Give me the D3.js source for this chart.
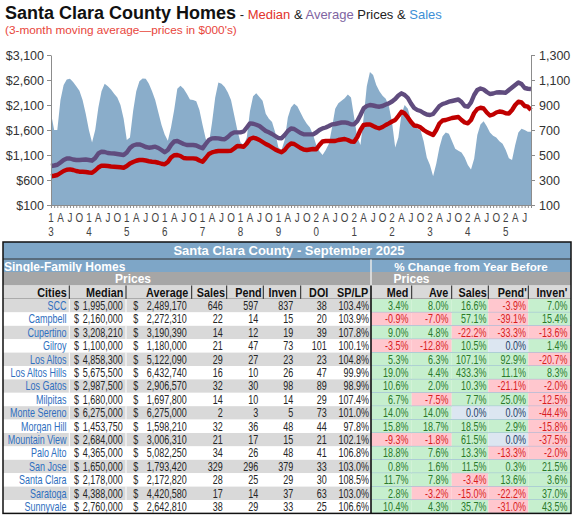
<!DOCTYPE html>
<html>
<head>
<meta charset="utf-8">
<script src="https://cdn.jsdelivr.net/npm/d3@7"></script>
<style>
body { margin: 0; background: #fff; }
svg text { font-family: "Liberation Sans", Arial, sans-serif; }
</style>
</head>
<body>
<svg id="chart" width="575" height="519"></svg>
<script>
// ---- chart data (3-month moving averages, Jan 2013 .. Sep 2025) ----
const years = ["13", "14", "15", "16", "17", "18", "19", "20", "21", "22", "23", "24", "25"]
const quarter_letters = ["A", "J", "O"]

const sales = [
    834, 700, 700, 940, 1060, 1105, 1110, 1085, 1050, 1015, 940, 830,
    700, 600, 700, 880, 1010, 1070, 1050, 1025, 990, 960, 900, 790,
    620, 640, 850, 1010, 1090, 1113, 1110, 1070, 1010, 940, 840, 740,
    665, 615, 720, 860, 1030, 1055, 1030, 990, 945, 940, 930, 860,
    740, 630, 595, 760, 960, 1080, 1070, 1045, 1000, 940, 820, 700,
    600, 580, 640, 850, 970, 995, 965, 935, 830, 790, 765, 680,
    560, 540, 620, 800, 880, 910, 890, 840, 790, 750, 720, 660,
    580, 530, 500, 540, 590, 720, 870, 915, 935, 955, 985, 960,
    800, 640, 580, 800, 1050, 1165, 1140, 1060, 1010, 975, 950, 890,
    760, 560, 640, 830, 900, 870, 780, 730, 710, 700, 610, 480,
    420, 330, 430, 560, 650, 680, 670, 610, 550, 535, 520, 480,
    420, 385, 470, 660, 745, 770, 730, 680, 655, 640, 610, 590,
    540, 475, 460, 580, 680, 710, 700, 686, 686
]

const median = [
    675, 685, 700, 740, 780, 805, 813, 800, 780, 766, 765, 760,
    750, 746, 790, 850, 886, 885, 880, 870, 866, 860, 855, 846,
    880, 930, 960, 985, 1000, 1000, 990, 975, 966, 960, 945, 925,
    913, 960, 1050, 1095, 1100, 1080, 1040, 1033, 1033, 1033, 1025, 990,
    966, 1040, 1120, 1153, 1170, 1180, 1180, 1180, 1180, 1185, 1230, 1280,
    1275, 1266, 1330, 1420, 1446, 1430, 1400, 1360, 1320, 1290, 1250, 1210,
    1180, 1153, 1200, 1280, 1330, 1320, 1280, 1240, 1210, 1200, 1210, 1220,
    1215, 1300, 1370, 1380, 1380, 1380, 1380, 1400, 1410, 1420, 1400, 1370,
    1366, 1460, 1600, 1700, 1710, 1713, 1680, 1650, 1633, 1660, 1700, 1733,
    1770, 1800, 1880, 1966, 1930, 1850, 1760, 1690, 1680, 1653, 1600, 1560,
    1530, 1500, 1600, 1730, 1790, 1800, 1820, 1840, 1850, 1860, 1800, 1750,
    1733, 1800, 1940, 2020, 2045, 2030, 1950, 1890, 1910, 1950, 1970, 1960,
    1935, 1930, 2000, 2100, 2166, 2150, 2080, 2066, 2000
]

const average = [
    880, 890, 905, 950, 1000, 1030, 1030, 1010, 1000, 1000, 1005, 1010,
    1000, 986, 1040, 1130, 1166, 1160, 1140, 1133, 1130, 1120, 1110, 1100,
    1150, 1240, 1290, 1310, 1313, 1290, 1260, 1246, 1255, 1266, 1240, 1200,
    1155, 1200, 1300, 1370, 1380, 1350, 1320, 1300, 1300, 1300, 1290, 1260,
    1233, 1320, 1400, 1433, 1435, 1433, 1420, 1413, 1460, 1520, 1553, 1553,
    1553, 1570, 1650, 1733, 1725, 1705, 1680, 1630, 1580, 1553, 1520, 1480,
    1440, 1433, 1500, 1580, 1630, 1620, 1580, 1540, 1515, 1513, 1513, 1513,
    1550, 1600, 1633, 1650, 1680, 1713, 1720, 1735, 1750, 1753, 1740, 1715,
    1713, 1780, 1900, 2033, 2080, 2100, 2090, 2075, 2066, 2080, 2110, 2133,
    2170, 2220, 2290, 2333, 2300, 2240, 2130, 2040, 2000, 1980, 1940, 1910,
    1900, 1920, 2000, 2080, 2120, 2140, 2166, 2180, 2195, 2210, 2160, 2080,
    2066, 2150, 2300, 2400, 2430, 2410, 2360, 2320, 2330, 2350, 2355, 2350,
    2346, 2400, 2450, 2500, 2550, 2520, 2440, 2425, 2420
]

const price_ticks = [100, 600, 1100, 1600, 2100, 2600, 3100]
const sales_ticks = [100, 300, 500, 700, 900, 1100, 1300]

// ---- table data ----
const cities = ["SCC", "Campbell", "Cupertino", "Gilroy", "Los Altos", "Los Altos Hills", "Los Gatos", "Milpitas",
    "Monte Sereno", "Morgan Hill", "Mountain View", "Palo Alto", "San Jose", "Santa Clara", "Saratoga", "Sunnyvale"]
const city_median = [1995000, 2160000, 3208210, 1100000, 4858300, 5675500, 2987500, 1680000,
    6275000, 1453750, 2684000, 4365000, 1650000, 2178000, 4388000, 2760000]
const city_average = [2489170, 2272310, 3190390, 1180000, 5122090, 6432740, 2906570, 1697800,
    6275000, 1598210, 3006310, 5082250, 1793420, 2172820, 4420580, 2642810]
const city_sales = [646, 22, 14, 21, 29, 16, 32, 14, 2, 32, 21, 34, 329, 28, 17, 38]
const city_pend = [597, 14, 12, 47, 27, 10, 30, 10, 3, 36, 17, 26, 296, 25, 14, 29]
const city_inven = [837, 15, 19, 73, 23, 26, 98, 14, 5, 48, 15, 48, 379, 29, 37, 33]
const city_doi = [38, 20, 39, 101, 23, 47, 89, 29, 73, 44, 21, 41, 33, 30, 63, 25]
const city_splp = [103.4, 103.9, 107.8, 100.1, 104.8, 99.9, 98.9, 107.4, 101.0, 97.8, 102.1, 106.8, 103.0, 108.5, 103.0, 106.6]
// % change from year before: Med, Ave, Sales, Pend', Inven'
const chg_med = [3.4, -0.9, 9.0, -3.5, 5.3, 19.0, 10.6, 6.7, 14.0, 15.8, -9.3, 18.8, 0.8, 11.7, 2.8, 10.4]
const chg_ave = [8.0, -7.0, 4.8, -12.8, 6.3, 4.4, 2.0, -7.5, 14.0, 18.7, -1.8, 7.6, 1.6, 7.8, -3.2, 4.3]
const chg_sales = [16.6, 57.1, -22.2, 10.5, 107.1, 433.3, 10.3, 7.7, 0.0, 18.5, 61.5, 13.3, 11.5, -3.4, -15.0, 35.7]
const chg_pend = [-3.9, -39.1, -33.3, 0.0, 92.9, 11.1, -21.1, 25.0, 0.0, 2.9, 0.0, -13.3, 0.3, 13.6, -22.2, -31.0]
const chg_inven = [7.0, 15.4, -13.6, 1.4, -20.7, 8.3, -2.0, -12.5, -44.4, -15.8, -37.5, -2.0, 21.5, 3.6, 37.0, 43.5]

const left_headers = ["Cities", "Median", "Average", "Sales", "Pend", "Inven", "DOI", "SP/LP"]
const right_headers = ["Med", "Ave", "Sales", "Pend'", "Inven'"]

const svg = d3.select("#chart")

// no narrow font installed: squeeze Liberation Sans horizontally instead
function ntext(parent, x, y, str, anchor, size, fill, bold, sx = 0.82) {
    return parent.append("text")
        .attr("transform", `translate(${x},${y}) scale(${sx},1)`)
        .attr("text-anchor", anchor)
        .attr("font-size", size)
        .attr("font-weight", bold ? "bold" : "normal")
        .attr("fill", fill)
        .text(str)
}

function draw_title() {
    const t = svg.append("text").attr("x", 5).attr("y", 19)
    t.append("tspan").attr("font-weight", "bold").attr("font-size", 18).attr("fill", "#111").text("Santa Clara County Homes")
    const parts = [[" - ", "#222"], ["Median", "#e2342b"], [" & ", "#222"], ["Average", "#8064a2"],
        [" Prices & ", "#222"], ["Sales", "#3d8fd6"]]
    parts.forEach(p => t.append("tspan").attr("font-size", 13).attr("fill", p[1]).text(p[0]))

    svg.append("text").attr("x", 5).attr("y", 34)
        .attr("font-size", 11.8).attr("fill", "#e8463c")
        .text("(3-month moving average\u2014prices in $000's)")
}

function draw_chart() {
    const months = years.flatMap(y => d3.range(12).map(m => y + "-" + m)).slice(0, sales.length)

    const x = d3.scalePoint().domain(months).range([51, 531])
    const y_price = d3.scaleLinear().domain([100, 3100]).range([205, 55])
    const y_sales = d3.scaleLinear().domain([100, 1300]).range([205, 55])

    svg.append("path")
        .datum(sales)
        .attr("fill", "#8aadca")
        .attr("d", d3.area()
            .x((d, i) => x(months[i]))
            .y0(y_sales(100))
            .y1(d => y_sales(d)))

    const line_price = d3.line().x((d, i) => x(months[i])).y(d => y_price(d))
    svg.append("path").datum(average)
        .attr("fill", "none").attr("stroke", "#604c7e").attr("stroke-width", 4.4)
        .attr("stroke-linejoin", "round").attr("d", line_price)
    svg.append("path").datum(median)
        .attr("fill", "none").attr("stroke", "#c00000").attr("stroke-width", 4.4)
        .attr("stroke-linejoin", "round").attr("d", line_price)

    // axes
    const left = svg.append("g").attr("transform", "translate(51,0)")
        .call(d3.axisLeft(y_price).tickValues(price_ticks).tickSize(4).tickSizeOuter(0).tickPadding(3)
            .tickFormat(d => "$" + d3.format(",")(d)))
    const right = svg.append("g").attr("transform", "translate(531,0)")
        .call(d3.axisRight(y_sales).tickValues(sales_ticks).tickSize(4).tickSizeOuter(0).tickPadding(4)
            .tickFormat(d3.format(",")))
    const bottom = svg.append("g").attr("transform", "translate(0,205)")
        .call(d3.axisBottom(x).tickSize(3).tickSizeOuter(0).tickFormat(""))

    ;[left, right, bottom].forEach(g => {
        g.select(".domain").attr("stroke", "#8c8c8c")
        g.selectAll(".tick line").attr("stroke", "#8c8c8c")
        g.selectAll("text").attr("font-size", 12.5).attr("fill", "#333")
            .attr("font-family", "'Liberation Sans', Arial, sans-serif")
    })

    // two-line month labels: year digits for January, A/J/O for quarters
    const label_months = months.filter((d, i) => i % 3 == 0)
    const lab = svg.append("g")
    label_months.forEach(key => {
        const [yy, m] = key.split("-")
        const mi = +m
        ntext(lab, x(key), 222, mi == 0 ? yy[0] : quarter_letters[mi / 3 - 1], "middle", 12, "#444")
        if (mi == 0) ntext(lab, x(key), 236, yy[1], "middle", 12, "#444")
    })
}

function draw_table() {
    const L = 3, R = 571, SPLIT = 371
    const top = 242, title_b = 259, sfh_b = 272, prices_b = 285.5, head_b = 299
    const row_h = 13.4
    const right_edges = [SPLIT, 411.7, 451.7, 488.3, 528.3, R]
    const bottom = head_b + row_h * cities.length

    const g = svg.append("g")

    // banner rows
    g.append("rect").attr("x", L).attr("y", top).attr("width", R - L).attr("height", sfh_b - top).attr("fill", "#7ea6c7")
    g.append("text").attr("x", 289).attr("y", 255).attr("text-anchor", "middle")
        .attr("font-weight", "bold").attr("font-size", 13).attr("fill", "#fff")
        .text("Santa Clara County - September 2025")
    g.append("line").attr("x1", L).attr("x2", R).attr("y1", title_b).attr("y2", title_b)
        .attr("stroke", "#333").attr("stroke-width", 1)
    g.append("text").attr("x", 4).attr("y", 271.2)
        .attr("font-weight", "bold").attr("font-size", 12).attr("fill", "#fff")
        .text("Single-Family Homes")
    g.append("text").attr("x", 471).attr("y", 271.2).attr("text-anchor", "middle")
        .attr("font-weight", "bold").attr("font-size", 11.7).attr("fill", "#fff")
        .text("% Change from Year Before")

    g.append("rect").attr("x", L).attr("y", sfh_b).attr("width", R - L).attr("height", prices_b - sfh_b).attr("fill", "#a6a6a6")
    ;[133, 411.5].forEach(cx => g.append("text").attr("x", cx).attr("y", 282.8).attr("text-anchor", "middle")
        .attr("font-weight", "bold").attr("font-size", 12).attr("fill", "#fff").text("Prices"))
    g.append("line").attr("x1", SPLIT).attr("x2", SPLIT).attr("y1", title_b + 0.5).attr("y2", prices_b)
        .attr("stroke", "#e8e8e8").attr("stroke-width", 1.5)

    // column header row
    g.append("rect").attr("x", L).attr("y", prices_b).attr("width", R - L).attr("height", head_b - prices_b).attr("fill", "#d9d9d9")
    const header_right = [66.7, 123.3, 188.3, 225, 261.7, 296.7, 328.3, 368.3, 408.3, 448.3, 486.7, 526.7, 567.3]
    left_headers.concat(right_headers).forEach((h, i) => {
        ntext(g, header_right[i], 296.9, h, "end", 13.5, "#111", true, 0.8)
    })
    const header_borders = [69.3, 126, 191.7, 226.7, 263.3, 300.7, 411.7, 451.7, 488.3, 528.3]
    header_borders.forEach(xb => g.append("line").attr("x1", xb).attr("x2", xb).attr("y1", prices_b).attr("y2", head_b)
        .attr("stroke", "#222").attr("stroke-width", 1))
    g.append("line").attr("x1", L).attr("x2", R).attr("y1", head_b).attr("y2", head_b).attr("stroke", "#666").attr("stroke-width", 0.8)

    // data rows
    const fmt = d3.format(",")
    const pct = v => v.toFixed(1) + "%"
    const changes = [chg_med, chg_ave, chg_sales, chg_pend, chg_inven]
    const chg_right = [408.5, 448.5, 486.5, 526, 567.5]
    const fs = 12, sx = 0.75

    cities.forEach((city, r) => {
        const y0 = head_b + r * row_h
        const ty = y0 + row_h / 2 + 4.3
        g.append("rect").attr("x", L).attr("y", y0).attr("width", SPLIT - L).attr("height", row_h)
            .attr("fill", r % 2 == 0 ? "#d9d9d9" : "#fff")
        ;[69.3, 126].forEach(xb => g.append("line").attr("x1", xb).attr("x2", xb).attr("y1", y0).attr("y2", y0 + row_h)
            .attr("stroke", "#fff").attr("stroke-width", 1))

        const ink = "#262626"
        ntext(g, 66.5, ty, city, "end", fs, "#2f6fc0", false, sx)
        ntext(g, 74, ty, "$", "start", fs, ink, false, sx)
        ntext(g, 122.7, ty, fmt(city_median[r]), "end", fs, ink, false, sx)
        ntext(g, 133.3, ty, "$", "start", fs, ink, false, sx)
        ntext(g, 186.7, ty, fmt(city_average[r]), "end", fs, ink, false, sx)
        const vals = [city_sales[r], city_pend[r], city_inven[r], city_doi[r]]
        const vx = [222.7, 258.3, 293.3, 326.7]
        vals.forEach((v, k) => ntext(g, vx[k], ty, v, "end", fs, ink, false, sx))
        ntext(g, 369, ty, pct(city_splp[r]), "end", fs, ink, false, sx)

        changes.forEach((arr, k) => {
            const v = arr[r]
            const bg = v > 0 ? "#c6efce" : v < 0 ? "#ffc7ce" : "#dce6f1"
            const fg = v > 0 ? "#2b7a2b" : v < 0 ? "#d81e1e" : "#243f66"
            g.append("rect").attr("x", right_edges[k]).attr("y", y0)
                .attr("width", right_edges[k + 1] - right_edges[k]).attr("height", row_h).attr("fill", bg)
            ntext(g, chg_right[k], ty, pct(v), "end", fs, fg, false, sx)
        })
        g.append("line").attr("x1", SPLIT).attr("x2", R).attr("y1", y0 + row_h).attr("y2", y0 + row_h)
            .attr("stroke", "#95b3d7").attr("stroke-width", 1)
    })

    // outer frame and section divider
    g.append("line").attr("x1", SPLIT).attr("x2", SPLIT).attr("y1", prices_b).attr("y2", bottom)
        .attr("stroke", "#111").attr("stroke-width", 1.6)
    g.append("rect").attr("x", L).attr("y", top).attr("width", R - L).attr("height", bottom - top)
        .attr("fill", "none").attr("stroke", "#111").attr("stroke-width", 1.5)
}

draw_title()
draw_chart()
draw_table()
</script>
</body>
</html>
